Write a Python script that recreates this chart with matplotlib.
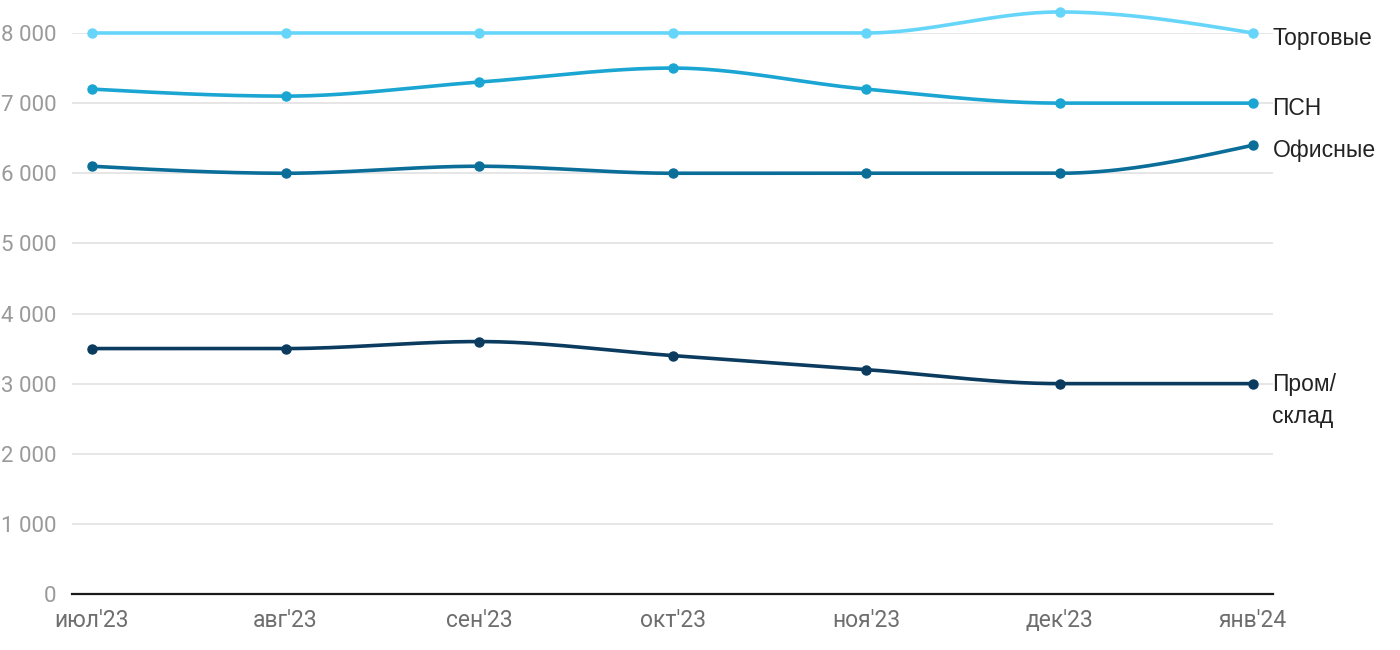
import numpy as np
import matplotlib
matplotlib.use("Agg")
import matplotlib.pyplot as plt

months = ["июл'23", "авг'23", "сен'23", "окт'23", "ноя'23", "дек'23", "янв'24"]
trade = [8000, 8000, 8000, 8000, 8000, 8300, 8000]
psn = [7200, 7100, 7300, 7500, 7200, 7000, 7000]
office = [6100, 6000, 6100, 6000, 6000, 6000, 6400]
industrial = [3500, 3500, 3600, 3400, 3200, 3000, 3000]
series_names = ["Торговые", "ПСН", "Офисные", "Пром/\nсклад"]
colors = ["#66d5fa", "#1ba5d3", "#0a6e99", "#0b3b5e"]
yticks = [0, 1000, 2000, 3000, 4000, 5000, 6000, 7000, 8000]

plt.rcParams['font.family'] = ['Roboto', 'DejaVu Sans']


def monotone_curve(x, y, n=40):
    x = np.asarray(x, float); y = np.asarray(y, float)
    h = np.diff(x); s = np.diff(y) / h
    m = np.zeros(len(x))
    for i in range(1, len(x) - 1):
        s0, s1 = s[i - 1], s[i]
        p = (s0 * h[i] + s1 * h[i - 1]) / (h[i - 1] + h[i])
        m[i] = (np.sign(s0) + np.sign(s1)) * min(abs(s0), abs(s1), 0.5 * abs(p))
    m[0] = (3 * s[0] - m[1]) / 2
    m[-1] = (3 * s[-1] - m[-2]) / 2
    xs, ys = [], []
    for i in range(len(x) - 1):
        t = np.linspace(0, 1, n)
        h00 = 2 * t**3 - 3 * t**2 + 1
        h10 = t**3 - 2 * t**2 + t
        h01 = -2 * t**3 + 3 * t**2
        h11 = t**3 - t**2
        xs.append(x[i] + t * h[i])
        ys.append(h00 * y[i] + h10 * h[i] * m[i] + h01 * y[i + 1] + h11 * h[i] * m[i + 1])
    return np.concatenate(xs), np.concatenate(ys)


fig = plt.figure(figsize=(14, 6.5), dpi=100)
ax = fig.add_axes([72 / 1400, 56 / 650, (1273 - 72) / 1400, (594 - 33) / 650])

x = np.arange(len(months))
data = [trade, psn, office, industrial]
lab_font = ['Liberation Sans', 'DejaVu Sans']
for vals, col, name in zip(data, colors, series_names):
    cx, cy = monotone_curve(x, vals)
    ax.plot(cx, cy, color=col, lw=2.6, clip_on=False, zorder=3, solid_capstyle='round')
    ax.plot(x, vals, 'o', color=col, ms=6.5, clip_on=False, zorder=4)
    if '\n' in name:
        ax.annotate(name, (x[-1], vals[-1]), xytext=(14, 7.5), textcoords='offset points',
                    ha='left', va='top', fontsize=16.5, color='#222222', linespacing=1.5,
                    family=lab_font, annotation_clip=False)
    else:
        ax.annotate(name, (x[-1], vals[-1]), xytext=(14, -4), textcoords='offset points',
                    ha='left', va='center', fontsize=16.5, color='#222222',
                    family=lab_font, annotation_clip=False)

ax.set_xlim(-20 / 193.5, 6 + 20 / 193.5)
ax.set_ylim(0, 8000)
ax.set_yticks(yticks)
ax.set_yticklabels([f"{v:,}".replace(",", " ") for v in yticks])
ax.set_xticks(x)
ax.set_xticklabels(months)
for sp in ['top', 'right', 'left']:
    ax.spines[sp].set_visible(False)
ax.spines['bottom'].set_color('#1a1a1a')
ax.spines['bottom'].set_linewidth(1.6)
ax.grid(axis='y', color='#e2e2e2', lw=1.2)
ax.set_axisbelow(True)
ax.tick_params(axis='y', length=0, pad=11, labelsize=16, labelcolor='#9a9a9a')
ax.tick_params(axis='x', length=0, pad=11, labelsize=16.5, labelcolor='#6e6e6e')

fig.savefig("out.png", dpi=100, facecolor='white')
